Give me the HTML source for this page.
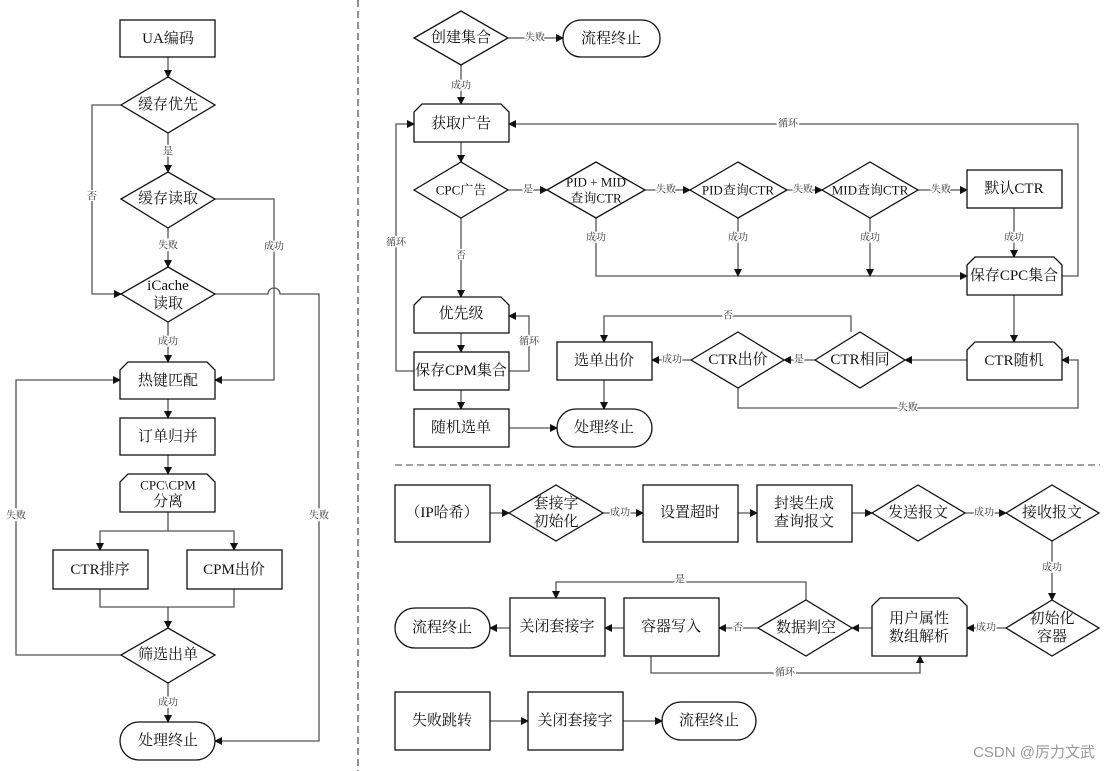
<!DOCTYPE html>
<html><head><meta charset="utf-8"><style>
html,body{margin:0;padding:0;background:#fff}
svg{display:block}
text{font-family:"Liberation Serif","Noto Serif CJK SC",serif;fill:#111}
.n{font-size:15px;text-anchor:middle;dominant-baseline:central}
.s{font-size:13px;text-anchor:middle;dominant-baseline:central}
.l{font-size:10px;text-anchor:middle;dominant-baseline:central;stroke:#fff;stroke-width:3px;paint-order:stroke;fill:#333}
.b{fill:#fff;stroke:#111;stroke-width:1.3}
.c{fill:none;stroke:#555;stroke-width:1.3}
</style></head><body>
<svg width="1111" height="771" viewBox="0 0 1111 771">
<defs><marker id="a" markerWidth="8" markerHeight="8" refX="7" refY="4" orient="auto" markerUnits="userSpaceOnUse"><path d="M0,0 L8,4 L0,8 z" fill="#111"/></marker></defs>
<!-- dashed separators -->
<line x1="358" y1="0" x2="358" y2="771" stroke="#222" stroke-dasharray="7,4"/>
<line x1="395" y1="465" x2="1100" y2="465" stroke="#444" stroke-dasharray="7,4"/>

<!-- LEFT connectors -->
<g class="c" marker-end="url(#a)">
<path d="M168,57 V77"/>
<path d="M168,133 V172"/>
<path d="M168,228 V267"/>
<path d="M168,322 V362"/>
<path d="M121,105 H92 V294 H121"/>
<path d="M215,199 H274 V380 H215"/>
<path d="M215,294 H268 A6,6 0 0 1 280,294 H319 V741 H215"/>
<path d="M168,399 V418"/>
<path d="M168,455 V474"/>
<path d="M168,512 V531 H100 V550"/>
<path d="M168,531 H234 V550"/>
<path d="M100,589 V607 H234 V589 M168,607 V628"/>
<path d="M168,683 V722"/>
<path d="M121,655 H16 V380 H120"/>
</g>
<!-- LEFT shapes -->
<rect class="b" x="120" y="20" width="95" height="37"/><text class="n" x="168" y="39">UA编码</text>
<polygon class="b" points="121,105 168,77 215,105 168,133"/><text class="n" x="168" y="105">缓存优先</text>
<polygon class="b" points="121,199 168,172 215,199 168,228"/><text class="n" x="168" y="199">缓存读取</text>
<polygon class="b" points="121,294 168,267 215,294 168,322"/><text class="n" x="168" y="286">iCache</text><text class="n" x="168" y="304">读取</text>
<polygon class="b" points="128,362 207,362 215,370 215,399 120,399 120,370"/><text class="n" x="168" y="381">热键匹配</text>
<rect class="b" x="120" y="418" width="95" height="37"/><text class="n" x="168" y="437">订单归并</text>
<polygon class="b" points="128,474 207,474 215,482 215,512 120,512 120,482"/><text class="s" x="168" y="485">CPC\CPM</text><text class="n" x="168" y="502">分离</text>
<rect class="b" x="53" y="550" width="95" height="39"/><text class="n" x="100" y="570">CTR排序</text>
<rect class="b" x="187" y="550" width="95" height="39"/><text class="n" x="234" y="570">CPM出价</text>
<polygon class="b" points="121,655 168,628 215,655 168,683"/><text class="n" x="168" y="655">筛选出单</text>
<rect class="b" x="120" y="722" width="95" height="38" rx="19"/><text class="n" x="168" y="741">处理终止</text>
<text class="l" x="168" y="152">是</text><text class="l" x="92" y="197">否</text>
<text class="l" x="168" y="246">失败</text><text class="l" x="274" y="247">成功</text>
<text class="l" x="168" y="342">成功</text><text class="l" x="319" y="516">失败</text>
<text class="l" x="16" y="516">失败</text><text class="l" x="168" y="703">成功</text>

<!-- RIGHT TOP connectors -->
<g class="c" marker-end="url(#a)">
<path d="M508,38 H563"/>
<path d="M461,65 V104"/>
<path d="M461,142 V162"/>
<path d="M1062,276 H1078 V124 H509"/>
<path d="M508,190 H547"/>
<path d="M645,190 H690"/>
<path d="M787,190 H822"/>
<path d="M918,190 H967"/>
<path d="M1014,208 V257"/>
<path d="M596,218 V276 H967"/>
<path d="M738,218 V276"/>
<path d="M870,218 V276"/>
<path d="M461,218 V297"/>
<path d="M461,333 V352"/>
<path d="M509,371 H529 V316 H509"/>
<path d="M414,371 H396 V124 H414"/>
<path d="M461,390 V409"/>
<path d="M509,428 H557"/>
<path d="M1014,295 V342"/>
<path d="M967,360 H905"/>
<path d="M815,360 H784"/>
<path d="M691,360 H652"/>
<path d="M851,332 V316 H604 V342"/>
<path d="M738,388 V408 H1078 V360 H1062"/>
<path d="M604,380 V409"/>
</g>
<polygon class="b" points="414,38 461,11 508,38 461,65"/><text class="n" x="461" y="38">创建集合</text>
<rect class="b" x="563" y="20" width="97" height="37" rx="18"/><text class="n" x="611" y="39">流程终止</text>
<polygon class="b" points="422,104 501,104 509,112 509,142 414,142 414,112"/><text class="n" x="461" y="124">获取广告</text>
<polygon class="b" points="414,190 461,162 508,190 461,218"/><text class="s" x="461" y="190">CPC广告</text>
<polygon class="b" points="547,190 596,162 645,190 596,218"/><text class="s" x="596" y="182" font-size="11">PID + MID</text><text class="s" x="596" y="198">查询CTR</text>
<polygon class="b" points="690,190 738,162 787,190 738,218"/><text class="s" x="738" y="190">PID查询CTR</text>
<polygon class="b" points="822,190 870,162 918,190 870,218"/><text class="s" x="870" y="190">MID查询CTR</text>
<rect class="b" x="967" y="170" width="95" height="38"/><text class="n" x="1014" y="189">默认CTR</text>
<polygon class="b" points="975,257 1054,257 1062,265 1062,295 967,295 967,265"/><text class="n" x="1014" y="276">保存CPC集合</text>
<polygon class="b" points="422,297 501,297 509,305 509,333 414,333 414,305"/><text class="n" x="461" y="314">优先级</text>
<rect class="b" x="414" y="352" width="95" height="38"/><text class="n" x="461" y="371">保存CPM集合</text>
<rect class="b" x="414" y="409" width="95" height="38"/><text class="n" x="461" y="428">随机选单</text>
<rect class="b" x="557" y="409" width="95" height="38" rx="19"/><text class="n" x="604" y="428">处理终止</text>
<polygon class="b" points="975,342 1054,342 1062,350 1062,380 967,380 967,350"/><text class="n" x="1014" y="361">CTR随机</text>
<polygon class="b" points="815,360 860,332 905,360 860,388"/><text class="n" x="860" y="360">CTR相同</text>
<polygon class="b" points="691,360 738,332 784,360 738,388"/><text class="n" x="738" y="360">CTR出价</text>
<rect class="b" x="557" y="342" width="95" height="38"/><text class="n" x="604" y="361">选单出价</text>
<text class="l" x="535" y="38">失败</text><text class="l" x="461" y="86">成功</text>
<text class="l" x="788" y="124">循环</text><text class="l" x="528" y="190">是</text>
<text class="l" x="666" y="190">失败</text><text class="l" x="803" y="190">失败</text><text class="l" x="941" y="190">失败</text>
<text class="l" x="596" y="238">成功</text><text class="l" x="738" y="238">成功</text><text class="l" x="870" y="238">成功</text><text class="l" x="1014" y="238">成功</text>
<text class="l" x="461" y="256">否</text><text class="l" x="396" y="243">循环</text><text class="l" x="529" y="342">循环</text>
<text class="l" x="728" y="316">否</text><text class="l" x="799" y="360">是</text><text class="l" x="672" y="360">成功</text>
<text class="l" x="908" y="408">失败</text>

<!-- BOTTOM connectors -->
<g class="c" marker-end="url(#a)">
<path d="M490,513 H509"/>
<path d="M603,513 H643"/>
<path d="M738,513 H757"/>
<path d="M852,513 H872"/>
<path d="M965,513 H1006"/>
<path d="M1052,541 V600"/>
<path d="M1006,628 H967"/>
<path d="M872,628 H852"/>
<path d="M758,628 H719"/>
<path d="M624,628 H605"/>
<path d="M510,628 H490"/>
<path d="M806,600 V582 H556 V598"/>
<path d="M651,656 V673 H920 V656"/>
<path d="M490,721 H528"/>
<path d="M623,721 H662"/>
</g>
<rect class="b" x="395" y="485" width="95" height="57"/><text class="n" x="442" y="513">（IP哈希）</text>
<polygon class="b" points="509,513 556,485 603,513 556,541"/><text class="n" x="556" y="504">套接字</text><text class="n" x="556" y="522">初始化</text>
<rect class="b" x="643" y="485" width="95" height="57"/><text class="n" x="690" y="513">设置超时</text>
<rect class="b" x="757" y="485" width="95" height="57"/><text class="n" x="804" y="504">封装生成</text><text class="n" x="804" y="522">查询报文</text>
<polygon class="b" points="872,513 918,485 965,513 918,541"/><text class="n" x="918" y="513">发送报文</text>
<polygon class="b" points="1006,513 1052,485 1099,513 1052,541"/><text class="n" x="1052" y="513">接收报文</text>
<polygon class="b" points="1006,628 1052,600 1099,628 1052,656"/><text class="n" x="1052" y="619">初始化</text><text class="n" x="1052" y="637">容器</text>
<polygon class="b" points="880,598 959,598 967,606 967,656 872,656 872,606"/><text class="n" x="919" y="619">用户属性</text><text class="n" x="919" y="637">数组解析</text>
<polygon class="b" points="758,628 806,600 852,628 806,656"/><text class="n" x="806" y="628">数据判空</text>
<rect class="b" x="624" y="598" width="95" height="58"/><text class="n" x="671" y="627">容器写入</text>
<rect class="b" x="510" y="598" width="95" height="58"/><text class="n" x="557" y="627">关闭套接字</text>
<rect class="b" x="395" y="608" width="95" height="40" rx="20"/><text class="n" x="442" y="628">流程终止</text>
<rect class="b" x="395" y="692" width="95" height="58"/><text class="n" x="442" y="721">失败跳转</text>
<rect class="b" x="528" y="692" width="95" height="58"/><text class="n" x="575" y="721">关闭套接字</text>
<rect class="b" x="662" y="702" width="94" height="38" rx="19"/><text class="n" x="709" y="721">流程终止</text>
<text class="l" x="620" y="513">成功</text><text class="l" x="984" y="513">成功</text>
<text class="l" x="1052" y="568">成功</text><text class="l" x="986" y="628">成功</text>
<text class="l" x="738" y="628">否</text><text class="l" x="680" y="580">是</text><text class="l" x="785" y="673">循环</text>
<text x="1095" y="757" text-anchor="end" font-size="15" style="font-family:'Liberation Sans','Noto Sans CJK SC',sans-serif;fill:#999">CSDN @厉力文武</text>
</svg>
</body></html>
